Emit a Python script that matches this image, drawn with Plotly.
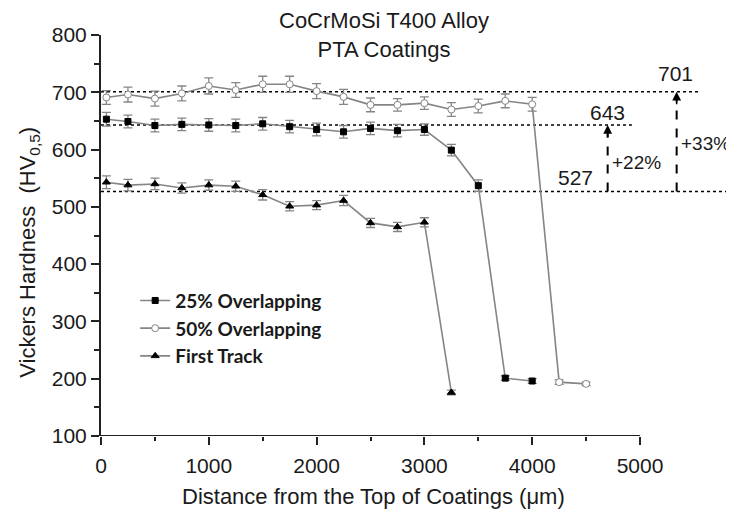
import plotly.graph_objects as go

# ---- data ----
x_main = [50, 250, 500, 750, 1000, 1250, 1500, 1750, 2000, 2250, 2500, 2750, 3000]

x_25 = x_main + [3250, 3500, 3750, 4000]
hv_25 = [653, 649, 642, 644, 643, 642, 645, 640, 635, 631, 637, 633, 635, 599, 537, 201, 196]
err_25 = [12, 11, 11, 11, 11, 11, 11, 11, 11, 11, 11, 11, 10, 10, 10, 4, 4]

x_50 = x_main + [3250, 3500, 3750, 4000, 4250, 4500]
hv_50 = [691, 696, 689, 698, 711, 704, 714, 714, 702, 692, 678, 678, 681, 670, 676, 685, 679, 194, 191]
err_50 = [12, 13, 13, 13, 14, 13, 14, 14, 13, 13, 12, 11, 11, 12, 12, 12, 12, 4, 3]

x_ft = x_main + [3250]
hv_ft = [543, 538, 540, 533, 538, 536, 521, 501, 503, 511, 472, 465, 473, 176]
err_ft = [11, 10, 10, 9, 9, 9, 9, 8, 8, 9, 8, 8, 8, 4]

series_names = ["25% Overlapping", "50% Overlapping", "First Track"]
ref_levels = [701, 643, 527]
ref_labels = ["701", "643", "527"]
gain_labels = ["+22%", "+33%"]
x_ticks = [0, 1000, 2000, 3000, 4000, 5000]
y_ticks = [100, 200, 300, 400, 500, 600, 700, 800]

LINE = "#858585"
FONT = "Liberation Sans, Arial, sans-serif"
TXT = "#1a1a1a"

fig = go.Figure()

def add_series(x, y, e, name, symbol, fill, size):
    fig.add_trace(go.Scatter(
        x=x, y=y, name="<b>" + name + "</b>", mode="lines+markers",
        line=dict(color=LINE, width=1.6),
        marker=dict(symbol=symbol, size=size, color=fill,
                    line=dict(color=LINE if fill == "white" else "black", width=1)),
        error_y=dict(type="data", array=e, visible=True, color=LINE,
                     thickness=1.3, width=4.5),
    ))

add_series(x_25, hv_25, err_25, series_names[0], "square", "black", 6)
add_series(x_50, hv_50, err_50, series_names[1], "circle", "white", 7)
add_series(x_ft, hv_ft, err_ft, series_names[2], "triangle-up", "black", 7)

# dotted reference levels
ends = [5557, 4925, 5872]
for lev, xe in zip(ref_levels, ends):
    fig.add_shape(type="line", x0=0, x1=xe, y0=lev, y1=lev, xref="x", yref="y",
                  line=dict(color="black", width=1.5, dash="dot"), layer="below")

# x axis line only up to 5000
fig.add_shape(type="line", x0=0, x1=x_ticks[-1], y0=y_ticks[0], y1=y_ticks[0],
              xref="x", yref="y", line=dict(color="#222", width=2))

# dashed arrows
for xa, top in [(4700, ref_levels[1]), (5340, ref_levels[0])]:
    fig.add_shape(type="line", x0=xa, x1=xa, y0=ref_levels[2], y1=top - 8,
                  xref="x", yref="y", line=dict(color="black", width=2, dash="dash"))
    fig.add_annotation(x=xa, y=top, ax=0, ay=14, xref="x", yref="y", text="",
                       showarrow=True, arrowhead=2, arrowsize=1.1, arrowwidth=1.6,
                       arrowcolor="black", standoff=0)

# value labels
fig.add_annotation(x=5325, y=733, text=ref_labels[0], showarrow=False,
                   font=dict(family=FONT, size=21, color=TXT))
fig.add_annotation(x=4694, y=665, text=ref_labels[1], showarrow=False,
                   font=dict(family=FONT, size=21, color=TXT))
fig.add_annotation(x=4397, y=552, text=ref_labels[2], showarrow=False,
                   font=dict(family=FONT, size=21, color=TXT))
fig.add_annotation(x=4972, y=578, text=gain_labels[0], showarrow=False,
                   font=dict(family=FONT, size=19, color=TXT))
fig.add_annotation(x=5603, y=610, text=gain_labels[1], showarrow=False,
                   font=dict(family=FONT, size=19, color=TXT))

# title
fig.add_annotation(xref="paper", yref="paper", x=0.447, y=1.0, xanchor="center", yanchor="middle",
                   text="CoCrMoSi T400 Alloy<br>PTA Coatings", showarrow=False,
                   font=dict(family=FONT, size=22, color=TXT))
# axis titles
fig.add_annotation(xref="paper", yref="paper", x=-0.114, y=0.459, textangle=-90,
                   xanchor="center", yanchor="middle",
                   text="Vickers Hardness  (HV<sub>0,5</sub>)", showarrow=False,
                   font=dict(family=FONT, size=22, color=TXT))
fig.add_annotation(xref="paper", yref="paper", x=0.43, y=-0.15,
                   xanchor="center", yanchor="middle",
                   text="Distance from the Top of Coatings (\u03bcm)", showarrow=False,
                   font=dict(family=FONT, size=22, color=TXT))

# page body has an 8px margin; size figure so it fills the 734x510 window
fig.update_layout(
    width=726, height=502,
    margin=dict(l=93, r=0, t=27, b=74),
    paper_bgcolor="white", plot_bgcolor="white",
    showlegend=True,
    legend=dict(x=0.054, y=0.385, xanchor="left", yanchor="top",
                bgcolor="rgba(0,0,0,0)", tracegroupgap=0,
                font=dict(family="Lato, Open Sans, sans-serif", size=19, color=TXT)),
    xaxis=dict(range=[0, 5872], tickmode="array", tickvals=x_ticks,
               showgrid=False, zeroline=False, showline=False,
               ticks="outside", ticklen=8, tickwidth=2, tickcolor="#222",
               ticklabelstandoff=3,
               tickfont=dict(family=FONT, size=21, color=TXT),
               minor=dict(tickmode="array", tickvals=[500, 1500, 2500, 3500, 4500],
                          ticks="outside", ticklen=4, tickwidth=2, tickcolor="#222")),
    yaxis=dict(range=[100, 800], tickmode="array", tickvals=y_ticks,
               showgrid=False, zeroline=False, showline=True, linewidth=2, linecolor="#222",
               ticks="outside", ticklen=8, tickwidth=2, tickcolor="#222",
               tickfont=dict(family=FONT, size=21, color=TXT),
               minor=dict(dtick=50, ticks="outside", ticklen=5, tickwidth=2, tickcolor="#222")),
)

fig.write_html("out.html")
